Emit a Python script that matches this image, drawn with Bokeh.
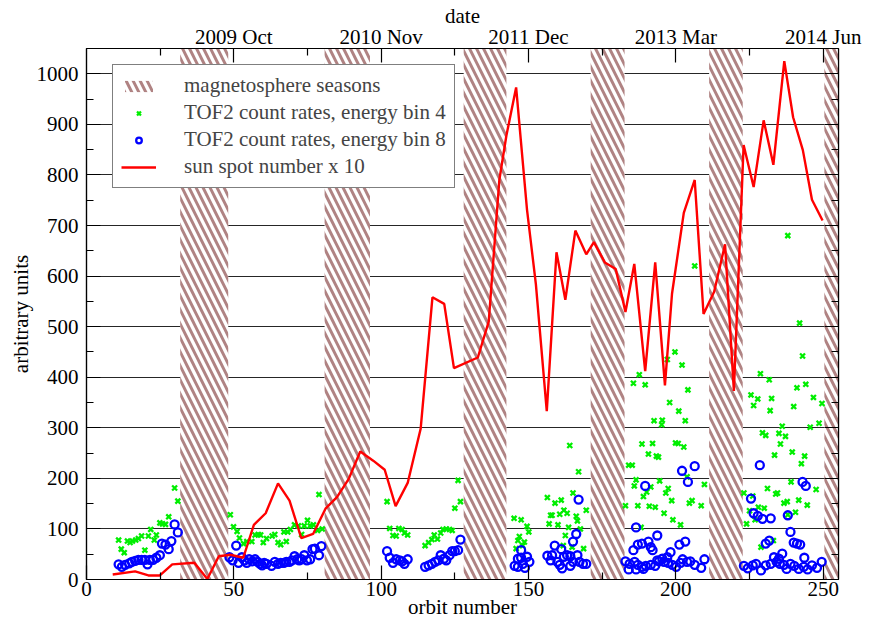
from bokeh.plotting import figure
from bokeh.models import (LinearAxis, FixedTicker, Legend, LegendItem, Range1d)
from bokeh.embed import file_html
from bokeh.resources import INLINE

FONT = "Liberation Serif"

# magnetosphere seasons (orbit number ranges)
season_start = [31.8, 80.8, 128.0, 171.1, 211.3, 250.4]
season_end = [48.1, 96.2, 142.5, 182.6, 222.7, 256.0]

# TOF2 count rates, energy bin 4
bin4_orbit = [10.9, 11.8, 12.8, 13.9, 14.8, 15.6, 16.7, 17.6, 18.7, 19.8, 21.0, 21.8, 23.0, 23.7, 24.9, 25.8, 26.8, 27.9, 29.9, 31.0,
              48.8, 49.9, 51.1, 51.9, 53.3, 54.4, 56.1, 57.2, 58.3, 59.1, 60.0, 61.1, 63.0, 63.9, 65.0, 65.9, 67.0, 67.8, 68.3, 69.2,
              70.6, 71.9, 73.0, 73.9, 75.0, 75.9, 77.0, 78.4, 78.9, 80.0,
              102.0, 102.9, 104.0, 105.1, 106.0, 107.1, 107.9, 109.0, 114.9, 116.1, 117.2, 118.0, 119.1, 120.2, 121.0, 122.1, 123.2,
              124.1, 125.0, 126.1, 126.9,
              145.1, 145.8, 146.4, 146.9, 147.5, 148.0, 148.6, 149.5, 150.1, 156.4, 157.0, 157.5, 158.0, 159.0, 160.0, 160.6, 161.1,
              161.8, 162.0, 162.5, 163.1, 163.6, 164.0, 164.8, 165.1, 166.2, 166.6, 167.0, 167.6, 168.7, 169.6,
              182.9, 184.0, 185.2, 185.6, 185.9, 186.5, 187.1, 187.6, 188.2, 188.5, 189.0, 189.6, 190.1, 190.7, 191.0, 191.5, 192.1,
              192.6, 193.0, 193.4, 194.1, 194.5, 195.2, 195.4, 196.0, 196.6, 197.1, 197.4, 197.9, 198.6, 199.0, 199.7, 199.9, 200.8,
              201.0, 201.6, 202.1, 202.7, 203.2, 203.8, 204.1, 204.6, 205.5, 206.4, 208.6, 209.7,
              223.1, 224.0, 225.0, 225.5, 226.1, 226.4, 226.9, 227.8, 228.0, 228.7, 228.9, 229.4, 230.0, 230.5, 231.1, 231.7, 232.0,
              232.5, 233.1, 233.5, 233.9, 234.5, 235.0, 235.5, 236.1, 236.7, 237.2, 237.8, 238.0, 238.0, 239.1, 239.5, 240.0, 240.6,
              241.1, 241.7, 242.0, 242.6, 243.0, 243.7, 244.1, 244.6, 245.6, 246.7, 247.6, 248.6, 249.6]
bin4_rate = [78, 60, 53, 76, 73, 76, 78, 81, 86, 58, 86, 99, 78, 88, 112, 110, 109, 124, 181, 155,
             128, 104, 95, 82, 71, 75, 75, 88, 89, 88, 73, 81, 86, 89, 73, 69, 94, 75, 94, 99,
             108, 106, 89, 106, 117, 106, 108, 97, 168, 100,
             154, 101, 87, 86, 101, 99, 92, 88, 67, 73, 79, 88, 80, 92, 99, 100, 99,
             97, 141, 196, 154,
             121, 61, 77, 85, 118, 67, 74, 105, 94, 162, 110, 127, 127, 151, 108, 129, 157,
             67, 137, 87, 131, 103, 265, 64, 171, 125, 116, 213, 100, 61, 137,
             146, 226, 226, 388, 185, 197, 146, 405, 103, 268, 164, 385, 173, 248, 145, 183, 269,
             314, 143, 244, 242, 195, 306, 315, 131, 171, 435, 180, 350, 156, 118, 450, 270, 269,
             333, 108, 424, 262, 314, 203, 375, 151, 156, 620, 146, 188,
             171, 110, 136, 365, 165, 344, 118, 357, 143, 407, 64, 290, 141, 285, 180, 395, 334,
             358, 77, 246, 169, 171, 289, 268, 303, 151, 283, 154, 128, 680, 193, 252, 342, 133,
             379, 157, 507, 229, 442, 244, 386, 147, 301, 360, 178, 309, 348]

# TOF2 count rates, energy bin 8
bin8_orbit = [10.9, 12.0, 13.1, 14.5, 15.4, 16.5, 17.6, 18.7, 19.8, 20.7, 21.5, 22.6, 23.7, 24.9, 25.6, 26.8, 27.9, 28.8, 29.9, 31.0,
              48.5, 49.6, 50.8, 51.6, 52.7, 53.6, 54.4, 55.2, 56.3, 57.2, 58.1, 58.9, 59.6, 60.3, 61.1, 62.8, 63.9, 65.0, 65.9, 67.0,
              67.8, 68.9, 69.7, 70.6, 71.5, 72.2, 73.0, 73.9, 74.8, 75.9, 76.7, 77.5, 78.9, 79.7,
              102.0, 102.9, 104.0, 105.1, 106.3, 107.1, 107.9, 109.0, 114.9, 116.1, 117.2, 118.3, 119.4, 120.2, 121.3, 122.1, 123.2,
              124.1, 125.0, 126.1, 126.9,
              145.3, 146.4, 146.4, 147.5, 147.5, 148.1, 148.8, 149.5, 150.3, 156.4, 157.5, 158.0, 158.9, 159.8, 160.6, 161.1, 161.4,
              162.0, 163.1, 164.2, 164.2, 165.1, 165.1, 166.2, 166.6, 167.0, 167.3, 168.5, 169.6,
              182.9, 184.0, 184.3, 185.6, 186.0, 186.5, 186.5, 187.1, 187.1, 188.5, 188.5, 189.0, 189.6, 189.8, 190.7, 191.5, 191.5,
              192.1, 193.0, 193.7, 193.7, 194.3, 195.4, 196.0, 197.1, 197.4, 198.2, 198.8, 200.1, 201.2, 201.6, 202.1, 202.3, 203.2,
              203.8, 204.1, 204.9, 206.4, 206.4, 208.6, 209.7,
              223.1, 224.4, 225.5, 226.1, 226.4, 227.2, 227.8, 228.5, 228.9, 229.4, 230.5, 230.5, 231.7, 232.2, 232.2, 233.3, 234.2,
              235.0, 235.3, 236.1, 236.7, 237.6, 238.0, 238.9, 238.9, 240.0, 240.2, 241.1, 241.7, 242.2, 243.0, 243.4, 243.6, 244.1,
              244.7, 246.2, 247.9, 249.5]
bin8_rate = [30, 25, 29, 32, 35, 37, 39, 39, 39, 30, 39, 39, 43, 48, 71, 69, 60, 76, 109, 93,
             44, 38, 67, 33, 44, 38, 33, 40, 36, 40, 35, 31, 28, 33, 31, 27, 35, 31, 33, 33,
             35, 35, 38, 46, 40, 38, 40, 48, 38, 40, 60, 61, 48, 66,
             56, 43, 33, 40, 38, 36, 31, 40, 25, 28, 31, 35, 38, 48, 41, 38, 48,
             56, 56, 58, 79,
             27, 41, 25, 58, 43, 31, 23, 45, 35, 47, 38, 48, 67, 35, 29, 60, 22,
             45, 48, 46, 27, 75, 35, 90, 48, 158, 35, 31, 31,
             36, 20, 31, 58, 35, 103, 20, 69, 29, 71, 25, 21, 185, 27, 75, 64, 29,
             58, 27, 87, 38, 36, 41, 35, 44, 33, 54, 29, 25, 69, 33, 215, 40, 75,
             35, 193, 36, 224, 29, 23, 40,
             27, 22, 160, 28, 131, 31, 126, 226, 18, 120, 71, 28, 77, 121, 31, 44, 35,
             41, 31, 51, 29, 21, 127, 94, 31, 73, 27, 71, 21, 69, 193, 25, 43, 185,
             20, 28, 23, 35]

# sun spot number x 10
ssn_orbit = [8.9, 16.5, 21.0, 24.9, 29.1, 36.6, 41.0, 44.9, 48.8, 53.2, 56.8, 60.8, 65.0, 68.9, 72.9, 76.9, 81.1, 85.0, 89.0,
             92.9, 97.3, 101.2, 104.9, 109.0, 113.4, 117.4, 121.4, 124.7, 132.8, 136.5, 140.1, 142.5, 145.8, 149.5, 152.5, 156.2,
             159.5, 162.5, 165.9, 169.6, 172.2, 175.9, 179.6, 182.9, 185.9, 189.6, 193.0, 196.3, 198.7, 202.7, 206.4, 209.4,
             213.0, 216.7, 219.7, 223.0, 226.4, 229.8, 233.1, 236.8, 239.8, 243.1, 246.2, 249.8]
ssn_x10 = [10, 16, 8, 8, 30, 33, 1, 46, 49, 43, 108, 131, 190, 156, 82, 90, 140, 163, 199,
           253, 235, 217, 145, 191, 298, 558, 545, 418, 439, 510, 790, 878, 973, 731, 584, 333,
           647, 553, 690, 643, 667, 627, 614, 529, 624, 412, 627, 384, 565, 725, 790, 525,
           569, 663, 373, 859, 776, 908, 820, 1025, 914, 849, 751, 710]

orbit_ticks = [0, 50, 100, 150, 200, 250]
orbit_minor = [25, 75, 125, 175, 225]
rate_ticks = [0, 100, 200, 300, 400, 500, 600, 700, 800, 900, 1000]
rate_minor = [50, 150, 250, 350, 450, 550, 650, 750, 850, 950]
date_ticks = [50, 100, 150, 200, 250]
date_labels = ["2009 Oct", "2010 Nov", "2011 Dec", "2013 Mar", "2014 Jun"]

p = figure(width=862, height=621, x_range=Range1d(0, 255.2), y_range=Range1d(0, 1050),
           output_backend="svg", toolbar_location=None,
           min_border_left=86, min_border_right=24, min_border_top=40, min_border_bottom=38)
p.outline_line_color = "black"
p.outline_line_width = 1.2
p.background_fill_color = "white"
p.border_fill_color = "white"

FS = "21px"

def style_axis(ax, major_in=14, minor_in=7):
    ax.major_tick_in = major_in
    ax.major_tick_out = 0
    ax.minor_tick_in = minor_in
    ax.minor_tick_out = 0
    ax.axis_line_color = "black"
    ax.axis_line_width = 1.2
    ax.major_tick_line_width = 1.2
    ax.minor_tick_line_width = 1.2
    ax.major_label_text_font = FONT
    ax.major_label_text_font_size = FS
    ax.major_label_text_color = "black"
    ax.axis_label_text_font = FONT
    ax.axis_label_text_font_size = FS
    ax.axis_label_text_font_style = "normal"
    ax.axis_label_text_color = "black"

# bottom axis
xa = p.xaxis[0]
xa.ticker = FixedTicker(ticks=orbit_ticks, minor_ticks=orbit_minor)
xa.axis_label = "orbit number"
style_axis(xa)
xa.major_label_standoff = 2
xa.axis_label_standoff = -4

# left axis
ya = p.yaxis[0]
ya.ticker = FixedTicker(ticks=rate_ticks, minor_ticks=rate_minor)
ya.axis_label = "arbitrary units"
style_axis(ya)
ya.major_label_standoff = 8
ya.axis_label_standoff = 1

# top date axis
top = LinearAxis(ticker=FixedTicker(ticks=date_ticks, minor_ticks=orbit_minor),
                 major_label_overrides={t: s for t, s in zip(date_ticks, date_labels)},
                 axis_label="date")
style_axis(top)
top.major_label_standoff = 0
top.axis_label_standoff = -6
p.add_layout(top, "above")

# right axis (ticks only)
right = LinearAxis(ticker=FixedTicker(ticks=rate_ticks, minor_ticks=rate_minor),
                   major_label_overrides={t: "" for t in rate_ticks})
style_axis(right)
right.major_label_standoff = 0
p.add_layout(right, "right")

p.xgrid.visible = False
p.ygrid.ticker = FixedTicker(ticks=rate_ticks)
p.ygrid.grid_line_color = "black"
p.ygrid.grid_line_width = 1.1
p.ygrid.grid_line_alpha = 0.85

bands = p.quad(left=season_start, right=season_end, bottom=[0] * len(season_start),
               top=[1050] * len(season_start), fill_color="white", line_color=None,
               hatch_pattern="\\", hatch_color="#b08383", hatch_weight=3.0, hatch_scale=14)
g4 = p.scatter(bin4_orbit, bin4_rate, marker="x", size=7, line_color="#00ee00", line_width=2.3)
g8 = p.scatter(bin8_orbit, bin8_rate, marker="circle", size=8, fill_color=None,
               line_color="#0000ff", line_width=2.3)
ln = p.line(ssn_orbit, ssn_x10, line_color="#ff0000", line_width=2.4)

legend = Legend(items=[LegendItem(label="magnetosphere seasons", renderers=[bands]),
                       LegendItem(label="TOF2 count rates, energy bin 4", renderers=[g4]),
                       LegendItem(label="TOF2 count rates, energy bin 8", renderers=[g8]),
                       LegendItem(label="sun spot number x 10", renderers=[ln])],
                location=(26, 391), label_text_font=FONT, label_text_font_size=FS,
                label_height=25, glyph_height=14, glyph_width=35, label_standoff=28,
                spacing=2, padding=8, margin=0,
                border_line_color="black", border_line_width=1.2,
                background_fill_color="white", background_fill_alpha=1.0)
p.add_layout(legend)

open("out.html", "w").write(file_html(p, INLINE))
